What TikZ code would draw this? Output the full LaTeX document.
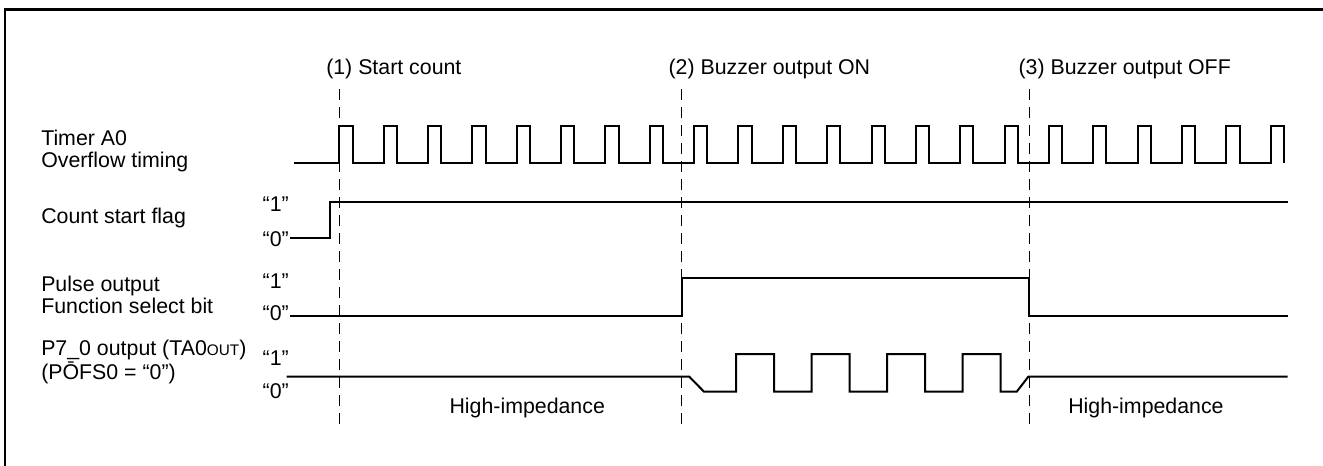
\documentclass[tikz,border=0pt]{standalone}
\usepackage{fontspec}
\setmainfont{Liberation Sans}
\usepackage{tikz}

\begin{document}
\begin{tikzpicture}[x=.75pt,y=-.75pt,
    sig/.style={line width=1.5pt},
    guide/.style={line width=.9pt,dash pattern=on 8pt off 5.5pt},
    txt/.style={inner sep=0pt,font=\fontsize{16}{16.5}\selectfont},
    lvl/.style={txt,anchor=base east}]
    \useasboundingbox (0,0) rectangle (1323,465);
    % Draw the frame
    \draw[line width=2pt] (5,470) -- (5,9.5) -- (1330,9.5);
    % Draw the signal names (base of the last line)
    \node[txt,anchor=base west,align=left] (tmr) at (41,167) {Timer A0\\Overflow timing};
    \node[txt,anchor=base west] (cnt) at (41,223) {Count start flag};
    \node[txt,anchor=base west,align=left] (pls) at (41,313) {Pulse output\\Function select bit};
    \node[txt,anchor=base west,align=left] (p70) at (41,379) {P7\_0 output (TA0{\fontsize{11.5}{11.5}\selectfont OUT})\\(P\=OFS0 = “0”)};
    % Draw the levels
    \foreach \y/\v/\nm in {211.7/1/c1, 246.5/0/c0, 288/1/p1, 320/0/p0, 365/1/o1, 398/0/o0}
      \node[lvl] (\nm) at (289,\y) {“\v”};
    % Draw the timing marks
    \foreach \x/\t/\lx [count=\i] in {339.3/{(1) Start count}/326, 681.7/{(2) Buzzer output ON}/668.3, 1029.3/{(3) Buzzer output OFF}/1018.3}{
      \draw[guide] (\x,89) -- (\x,428);
      \node[txt,anchor=base west] (mark\i) at (\lx,74.5) {\t};
    }
    % Timer A0 overflow
    \draw[sig] (294,163.3) foreach \n in {0,...,21}{ -- ({339.3+44.35*\n},163.3) -- ++(0,-37.3) -- ++(13.2,0) -- ++(0,37.3)};
    % Count start flag
    \draw[sig] (290,238) -| (330,201.7) -- (1287.7,201.7);
    % Pulse output function select bit
    \draw[sig] (290,316) -| (681.7,278.3) -| (1029.3,316) -- (1287.7,316);
    % P7_0 output
    \draw[sig] (286.7,376.7) -- (689.3,376.7) -- (704,391.7)
      foreach \x in {736,811.5,887,962.5}{ -| (\x,354) -| ({\x+38},391.7) }
      -- (1016.7,391.7) -- (1028.3,376.7) -- (1287.7,376.7);
    \node[txt,anchor=base west] (hiz1) at (449.3,413.3) {High-impedance};
    \node[txt,anchor=base west] (hiz2) at (1068,413.3) {High-impedance};
\end{tikzpicture}
\end{document}
